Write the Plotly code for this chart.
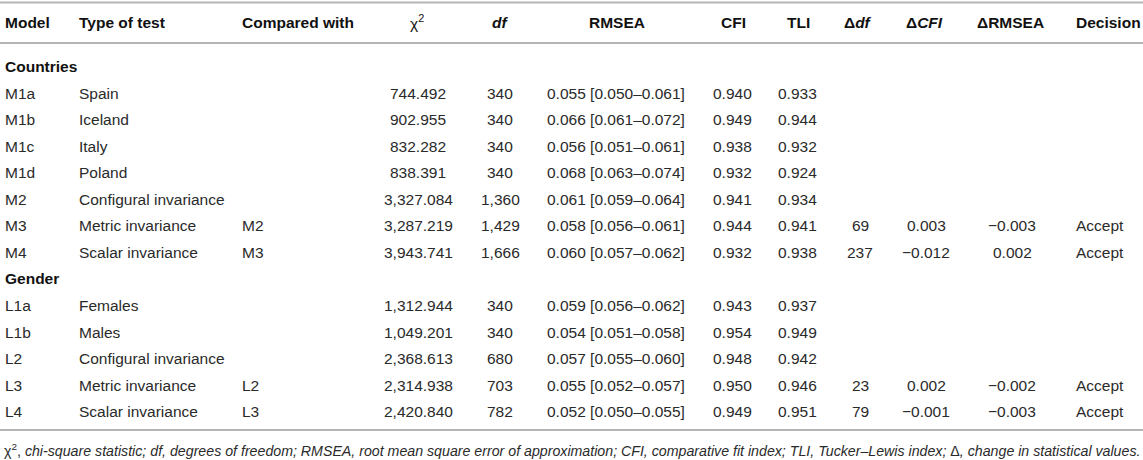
import plotly.graph_objects as go

# Table content
headers = ["Model", "Type of test", "Compared with", "χ<sup>2</sup>", "<i>df</i>", "RMSEA",
           "CFI", "TLI", "Δ<i>df</i>", "Δ<i>CFI</i>", "ΔRMSEA", "Decision"]

sections = ["Countries", "Gender"]

model = ["M1a", "M1b", "M1c", "M1d", "M2", "M3", "M4",
         "L1a", "L1b", "L2", "L3", "L4"]
test_type = ["Spain", "Iceland", "Italy", "Poland", "Configural invariance", "Metric invariance",
             "Scalar invariance", "Females", "Males", "Configural invariance",
             "Metric invariance", "Scalar invariance"]
compared = ["", "", "", "", "", "M2", "M3", "", "", "", "L2", "L3"]
chi2 = ["744.492", "902.955", "832.282", "838.391", "3,327.084", "3,287.219", "3,943.741",
        "1,312.944", "1,049.201", "2,368.613", "2,314.938", "2,420.840"]
df_vals = ["340", "340", "340", "340", "1,360", "1,429", "1,666",
           "340", "340", "680", "703", "782"]
rmsea = ["0.055 [0.050–0.061]", "0.066 [0.061–0.072]", "0.056 [0.051–0.061]",
         "0.068 [0.063–0.074]", "0.061 [0.059–0.064]", "0.058 [0.056–0.061]",
         "0.060 [0.057–0.062]", "0.059 [0.056–0.062]", "0.054 [0.051–0.058]",
         "0.057 [0.055–0.060]", "0.055 [0.052–0.057]", "0.052 [0.050–0.055]"]
cfi = ["0.940", "0.949", "0.938", "0.932", "0.941", "0.944", "0.932",
       "0.943", "0.954", "0.948", "0.950", "0.949"]
tli = ["0.933", "0.944", "0.932", "0.924", "0.934", "0.941", "0.938",
       "0.937", "0.949", "0.942", "0.946", "0.951"]
d_df = ["", "", "", "", "", "69", "237", "", "", "", "23", "79"]
d_cfi = ["", "", "", "", "", "0.003", "−0.012", "", "", "", "0.002", "−0.001"]
d_rmsea = ["", "", "", "", "", "−0.003", "0.002", "", "", "", "−0.002", "−0.003"]
decision = ["", "", "", "", "", "Accept", "Accept", "", "", "", "Accept", "Accept"]

# number of data rows in each section
section_sizes = [7, 5]

footnote = ("χ<sup>2</sup>, <i>chi-square statistic; df, degrees of freedom; RMSEA, root mean square "
            "error of approximation; CFI, comparative fit index; TLI, Tucker–Lewis index; </i>Δ<i>, "
            "change in statistical values.</i>")

columns = [model, test_type, compared, chi2, df_vals, rmsea, cfi, tli, d_df, d_cfi, d_rmsea, decision]

# layout of columns (pixels): x position and anchor
col_x = [3, 77, 240, 418, 500, 616, 732, 797, 860, 926, 1012, 1100]
col_anchor = ["left", "left", "left"] + ["center"] * 9
hdr_x = [3, 77, 240, 417, 500, 617, 733, 798, 858, 924, 1010, 1108]

W, H = 1143, 460
FONT = "Liberation Sans, Arial, Helvetica, sans-serif"
FS = 15.5
header_y = 22
row0_y = 66.5
row_h = 26.55

fig = go.Figure()
ann = []

for j, h in enumerate(headers):
    txt = h if j == 3 else "<b>" + h + "</b>"
    ann.append(dict(x=hdr_x[j], y=header_y, text=txt, xanchor=col_anchor[j], yanchor="middle",
                    showarrow=False, font=dict(size=FS, color="#111111", family=FONT)))

r = 0
start = 0
for s, name in enumerate(sections):
    ann.append(dict(x=col_x[0], y=row0_y + r * row_h, text="<b>" + name + "</b>", xanchor="left",
                    yanchor="middle", showarrow=False,
                    font=dict(size=FS, color="#111111", family=FONT)))
    r += 1
    for i in range(start, start + section_sizes[s]):
        for j, col in enumerate(columns):
            if col[i] == "":
                continue
            ann.append(dict(x=col_x[j], y=row0_y + r * row_h, text=col[i], xanchor=col_anchor[j],
                            yanchor="middle", showarrow=False,
                            font=dict(size=FS, color="#2a2a2a", family=FONT)))
        r += 1
    start += section_sizes[s]

ann.append(dict(x=2, y=450, text=footnote, xanchor="left", yanchor="middle", showarrow=False,
                font=dict(size=14.2, color="#2a2a2a", family=FONT)))

# horizontal rules
shapes = []
for yy in [2.5, 43, 430]:
    shapes.append(dict(type="line", x0=0, x1=W, y0=yy, y1=yy,
                       line=dict(color="#b5b5b5", width=2)))

fig.update_layout(
    width=W, height=H,
    margin=dict(l=0, r=0, t=0, b=0),
    paper_bgcolor="white", plot_bgcolor="white",
    xaxis=dict(range=[0, W], visible=False, fixedrange=True),
    yaxis=dict(range=[H, 0], visible=False, fixedrange=True),
    annotations=ann, shapes=shapes,
    showlegend=False,
)

fig.write_html("out.html", config={"displayModeBar": False},
               post_script="document.body.style.margin='0';document.body.style.overflow='hidden';")
